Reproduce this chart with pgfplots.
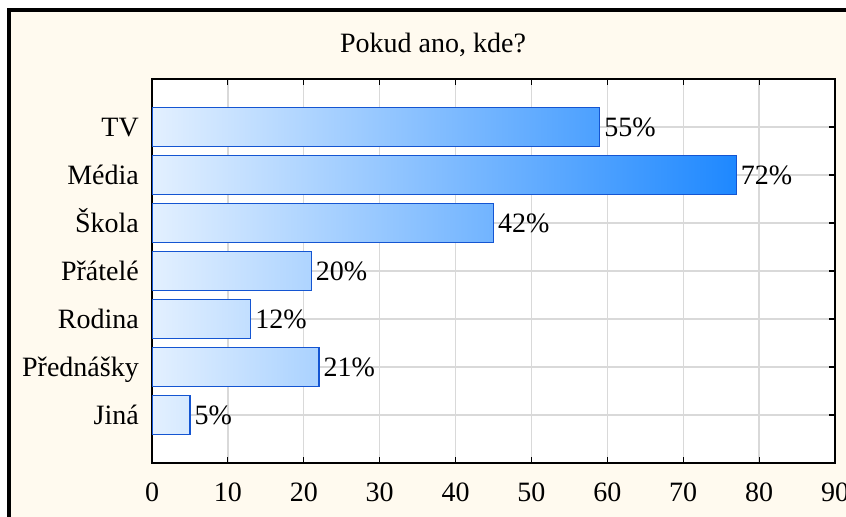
\documentclass[border=0pt]{standalone}
\usepackage{pgfplots}
\pgfplotsset{compat=1.18}
\usepackage{fontspec}
\setmainfont{Liberation Serif}
\definecolor{cream}{RGB}{255,250,239}
\definecolor{blight}{RGB}{227,240,255}
\definecolor{bdark}{RGB}{30,136,255}
\definecolor{bedge}{RGB}{20,85,210}
\definecolor{gridc}{RGB}{217,217,217}
\newcommand{\bigf}{\fontsize{28bp}{32bp}\selectfont}
\begin{document}
\begin{tikzpicture}
\useasboundingbox (0bp,0bp) rectangle (846bp,517bp);
\clip (0bp,0bp) rectangle (846bp,517bp);
\fill[white] (0bp,0bp) rectangle (846bp,517bp);
\fill[cream] (9bp,-20bp) rectangle (880bp,507bp);
\draw[line width=4bp] (9bp,-20bp) -- (9bp,507bp) -- (880bp,507bp);
\node[anchor=base, font=\bigf, inner sep=0pt] at (433bp,464bp) {Pokud ano, kde?};
\begin{axis}[
  at={(152bp,54bp)}, anchor=south west,
  scale only axis, width=683bp, height=384bp,
  xmin=0, xmax=90, ymin=-1, ymax=7,
  xtick={0,10,...,90}, ytick={0,...,6},
  yticklabels={Jiná,Přednášky,Rodina,Přátelé,Škola,Média,TV},
  /pgf/number format/assume math mode=true,
  grid=major, major grid style={gridc, line width=1.3bp},
  axis line style={line width=1.6bp},
  tick align=inside, tick pos=both, major tick length=6bp,
  tick style={black, line width=1.2bp},
  axis background/.style={fill=white},
  xticklabel style={font=\bigf, anchor=north, inner sep=0pt, yshift=-19bp, text height=19bp, text depth=0pt},
  yticklabel style={font=\bigf, anchor=east, inner sep=0pt, xshift=-13bp, text height=18.5bp, text depth=0pt},
  bbar/.style={xbar, bar width=0.8, bar shift=0pt, draw=bedge, line width=1.2bp, left color=blight,
    every node near coord/.append style={font=\bigf, anchor=west, inner sep=0pt, xshift=4bp, text height=19bp, text depth=0pt, black}},
]
\addplot[bbar, right color=bdark!77!blight, nodes near coords={55\%}] coordinates {(59,6)};
\addplot[bbar, right color=bdark!100!blight, nodes near coords={72\%}] coordinates {(77,5)};
\addplot[bbar, right color=bdark!58!blight, nodes near coords={42\%}] coordinates {(45,4)};
\addplot[bbar, right color=bdark!27!blight, nodes near coords={20\%}] coordinates {(21,3)};
\addplot[bbar, right color=bdark!17!blight, nodes near coords={12\%}] coordinates {(13,2)};
\addplot[bbar, right color=bdark!29!blight, nodes near coords={21\%}] coordinates {(22,1)};
\addplot[bbar, right color=bdark!7!blight, nodes near coords={5\%}] coordinates {(5,0)};
\end{axis}
\end{tikzpicture}
\end{document}
